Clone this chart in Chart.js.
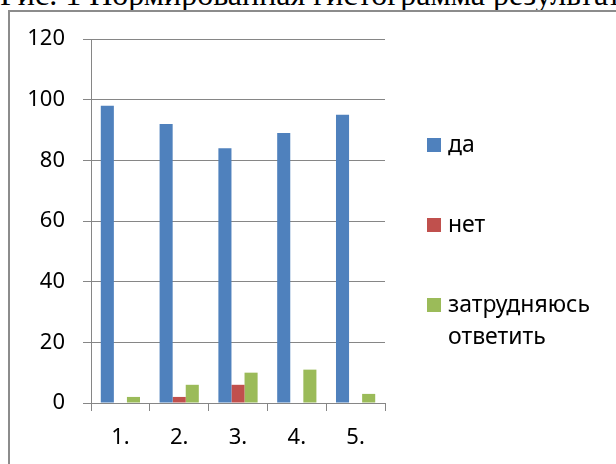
<!DOCTYPE html>
<html>
<head>
<meta charset="utf-8">
<script src="https://cdn.jsdelivr.net/npm/chart.js@4"></script>
<style>
  html, body { margin: 0; padding: 0; background: #fff; }
  body { width: 616px; height: 464px; position: relative; overflow: hidden; }
  #caption {
    position: absolute; left: 0; top: -22px; white-space: nowrap;
    font-family: "Liberation Serif", "Times New Roman", serif; font-size: 32px; line-height: 32px; color: #000;
  }
  #frame {
    position: absolute; left: 8px; top: 10px; width: 700px; height: 600px;
    border-top: 2px solid #8c8c8c; border-left: 2px solid #8c8c8c;
  }
  #chart { position: absolute; left: 0; top: 0; }
</style>
</head>
<body>
<div id="caption">Рис. 1 Нормированная гистограмма результатов опроса</div>
<div id="frame"></div>
<canvas id="chart" width="616" height="464"></canvas>
<script>
// вопросы анкеты
const categories = ['1.', '2.', '3.', '4.', '5.'];

// ответы, %
const yesValues = [98, 92, 84, 89, 95];
const noValues = [0, 2, 6, 0, 0];
const unsureValues = [2, 6, 10, 11, 3];

const seriesNames = ['да', 'нет', ['затрудняюсь', 'ответить']];
const seriesColors = ['#4F81BD', '#C0504D', '#9BBB59'];

const FONT = '"Noto Sans", "Open Sans", sans-serif';
const AXIS_GRAY = '#868686';

// legend on the right, drawn by hand to match the original spacing
const sideLegend = {
    id: 'sideLegend',
    afterDraw(chart) {
        const ctx = chart.ctx;
        const area = chart.chartArea;
        const x = area.right + 42;
        let y = area.top + 106;
        ctx.save();
        ctx.font = '23px ' + FONT;
        ctx.textBaseline = 'middle';
        chart.data.datasets.forEach((ds) => {
            const lines = Array.isArray(ds.label) ? ds.label : [ds.label];
            ctx.fillStyle = ds.backgroundColor;
            ctx.fillRect(x, y - 7, 14, 14);
            ctx.fillStyle = '#000';
            lines.forEach((line, i) => ctx.fillText(line, x + 21, y + i * 32));
            y += 80;
        });
        ctx.restore();
    }
};

new Chart(document.getElementById('chart'), {
    type: 'bar',
    data: {
        labels: categories,
        datasets: [
            { label: seriesNames[0], data: yesValues, backgroundColor: seriesColors[0] },
            { label: seriesNames[1], data: noValues, backgroundColor: seriesColors[1] },
            { label: seriesNames[2], data: unsureValues, backgroundColor: seriesColors[2] }
        ]
    },
    options: {
        responsive: false,
        animation: false,
        events: [],
        layout: { padding: { top: 39, right: 231, bottom: 0, left: 0 } },
        datasets: {
            bar: { categoryPercentage: 0.667, barPercentage: 1 }
        },
        plugins: {
            legend: { display: false },
            tooltip: { enabled: false }
        },
        scales: {
            x: {
                afterFit: (s) => { s.height = 61; },
                grid: { offset: true, drawOnChartArea: false, color: AXIS_GRAY, tickLength: 8 },
                border: { color: AXIS_GRAY, width: 1 },
                ticks: { color: '#000', font: { family: FONT, size: 22 }, padding: 14 }
            },
            y: {
                min: 0,
                max: 120,
                afterFit: (s) => { s.width = 91; },
                ticks: { stepSize: 20, color: '#000', font: { family: FONT, size: 22 }, padding: 18 },
                grid: { color: AXIS_GRAY, tickLength: 8 },
                border: { color: AXIS_GRAY, width: 1 }
            }
        }
    },
    plugins: [sideLegend]
});
</script>
</body>
</html>
